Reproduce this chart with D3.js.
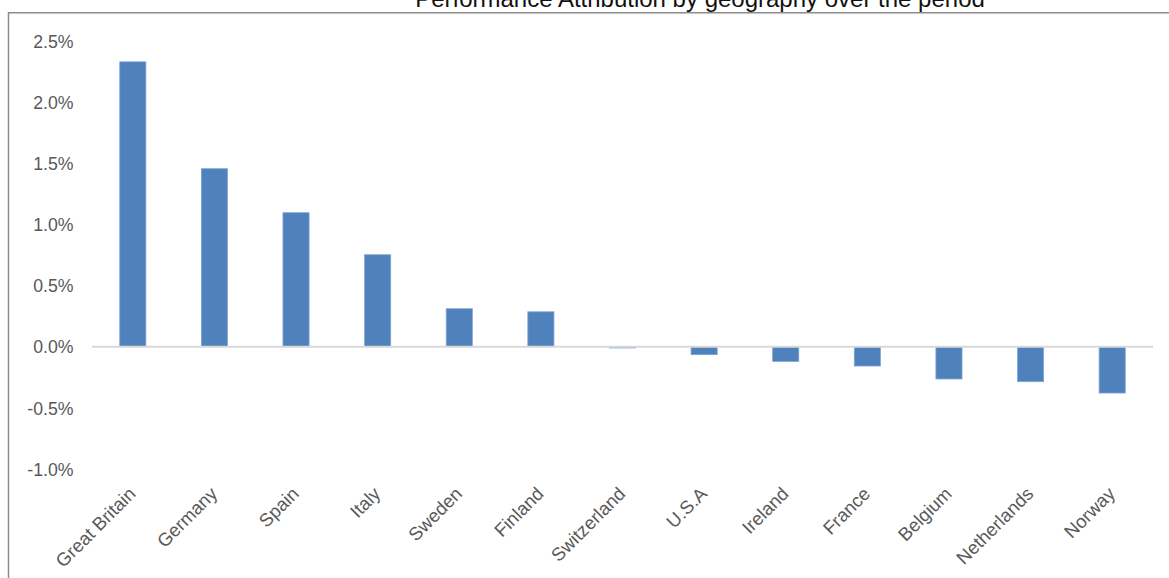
<!DOCTYPE html>
<html>
<head>
<meta charset="utf-8">
<script src="https://cdn.jsdelivr.net/npm/d3@7"></script>
<style>
  html, body { margin: 0; padding: 0; background: #fff; }
  svg { display: block; }
</style>
</head>
<body>
<script>
const categories = ["Great Britain", "Germany", "Spain", "Italy", "Sweden", "Finland", "Switzerland", "U.S.A", "Ireland", "France", "Belgium", "Netherlands", "Norway"];
const values = [2.332, 1.457, 1.097, 0.753, 0.311, 0.286, -0.010, -0.065, -0.120, -0.158, -0.264, -0.286, -0.379];
const yTicks = [-1.0, -0.5, 0.0, 0.5, 1.0, 1.5, 2.0, 2.5];
const title = "Performance Attribution by geography over the period";

const W = 1169, H = 578;
const svg = d3.select("body").append("svg").attr("width", W).attr("height", H);

// chart border
svg.append("rect")
  .attr("x", 8.5).attr("y", 12.75).attr("width", 1300).attr("height", 700)
  .attr("fill", "none").attr("stroke", "#8c8c8c").attr("stroke-width", 1.5);

// title
svg.append("text")
  .attr("x", 700).attr("y", 7)
  .attr("text-anchor", "middle")
  .attr("font-family", "Liberation Sans, Arial, sans-serif")
  .attr("font-size", 24)
  .attr("fill", "#111")
  .text(title);

const x = d3.scaleBand().domain(categories).range([92, 1153]).paddingInner(0.68).paddingOuter(0.34);
const y = d3.scaleLinear().domain([-1.0, 2.5]).range([468.9, 41.3]);

// y tick labels
const yAxis = d3.axisLeft(y).tickValues(yTicks).tickSize(0).tickPadding(0)
  .tickFormat(d => d.toFixed(1) + "%");
const ya = svg.append("g").attr("transform", "translate(73.5,0)").call(yAxis);
ya.select(".domain").remove();
ya.selectAll("text")
  .attr("font-family", "Liberation Sans, Arial, sans-serif")
  .attr("font-size", 17.7)
  .attr("fill", "#595959")
  .attr("dy", "0.35em");

// bars
svg.append("g").selectAll("rect").data(values).join("rect")
  .attr("x", (d, i) => x(categories[i]))
  .attr("width", x.bandwidth())
  .attr("y", d => y(Math.max(0, d)))
  .attr("height", d => Math.abs(y(d) - y(0)))
  .attr("fill", "#4f81bd")
  .attr("stroke", "#7fa4d3")
  .attr("stroke-width", 0.8);

// zero line
svg.append("line")
  .attr("x1", 92).attr("x2", 1153)
  .attr("y1", y(0)).attr("y2", y(0))
  .attr("stroke", "#d9d9d9").attr("stroke-width", 2);

// category labels
const xAxis = d3.axisBottom(x).tickSize(0).tickPadding(0);
const xa = svg.append("g").attr("transform", "translate(0,495)").call(xAxis);
xa.select(".domain").remove();
xa.selectAll("text")
  .attr("font-family", "Liberation Sans, Arial, sans-serif")
  .attr("font-size", 18.5)
  .attr("fill", "#595959")
  .attr("text-anchor", "end")
  .attr("dy", 0).attr("y", 0)
  .attr("transform", "translate(4,0) rotate(-45)");
</script>
</body>
</html>
